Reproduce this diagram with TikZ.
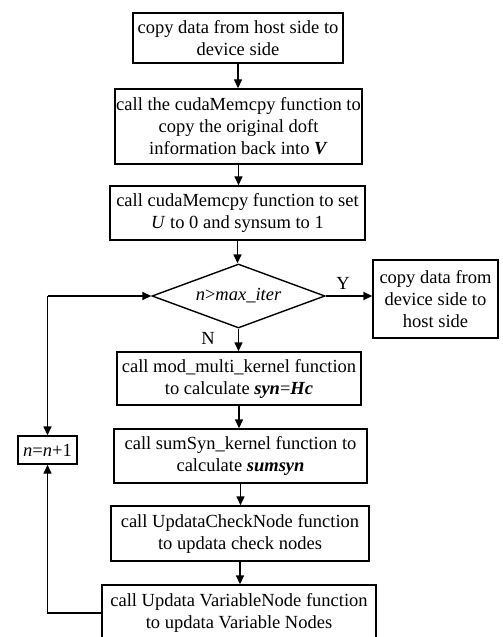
\documentclass[tikz,border=0pt]{standalone}
\usepackage{fontspec}
\setmainfont{Liberation Serif}
\usetikzlibrary{shapes.geometric,arrows.meta}
\begin{document}
\begin{tikzpicture}[x=1bp,y=-1bp,
  box/.style={draw,line width=1.4bp,inner sep=0pt,align=center,font=\fontsize{18.5bp}{22bp}\selectfont},
  arr/.style={line width=1.4bp,-{Triangle[length=9bp,width=8bp]}},
  lbl/.style={inner sep=0pt,font=\fontsize{18.5bp}{22bp}\selectfont}]
\useasboundingbox (0,0) rectangle (503,637);
\node[box,minimum width=210bp,minimum height=50bp] (b1) at (238,38) {copy data from host side to\\device side};
\node[box,minimum width=247bp,minimum height=75bp] (b2) at (238.5,126.5) {call the cudaMemcpy function to\\copy the original doft\\information back into \textbf{\textit{V}}};
\node[box,minimum width=255bp,minimum height=54bp] (b3) at (237.5,213) {call cudaMemcpy function to set\\\textit{U} to 0 and synsum to 1};
\node[box,shape=diamond,aspect=2.7,minimum width=173bp,minimum height=64bp] (dia) at (238.5,296) {\textit{n}>\textit{max\_iter}};
\node[box,minimum width=125bp,minimum height=78bp] (r) at (435.5,299) {copy data from\\device side to\\host side};
\node[box,minimum width=244bp,minimum height=53bp] (mod) at (239,378.5) {call mod\_multi\_kernel function\\to calculate \textbf{\textit{syn}}=\textbf{\textit{Hc}}};
\node[box,minimum width=253bp,minimum height=54bp] (sum) at (240.5,456) {call sumSyn\_kernel function to\\calculate \textbf{\textit{sumsyn}}};
\node[box,minimum width=258bp,minimum height=55bp] (chk) at (240,533.5) {call UpdataCheckNode function\\to updata check nodes};
\node[box,minimum width=274bp,minimum height=55bp] (var) at (239,612.5) {call Updata VariableNode function\\to updata Variable Nodes};
\node[box,minimum width=59bp,minimum height=28bp] (inc) at (47.5,450) {\textit{n}=\textit{n}+1};
\draw[arr] (b1.south) -- (b1.south |- b2.north);
\draw[arr] (b2.south) -- (b2.south |- b3.north);
\draw[arr] (b3.south) -- (b3.south |- dia.north);
\draw[arr] (dia.east) -- (dia.east -| r.west);
\draw[arr] (dia.south) -- (dia.south |- mod.north);
\draw[arr] (mod.south) -- (mod.south |- sum.north);
\draw[arr] (sum.south) -- (sum.south |- chk.north);
\draw[arr] (chk.south) -- (chk.south |- var.north);
\coordinate (vl) at ([yshift=-0.5bp]var.west);
\coordinate (corner) at (inc.north |- dia.west);
\draw[arr] (vl) -| (inc.south);
\draw[arr] (corner) -- (dia.west);
\draw[arr] (corner) -- (inc.north);
\node[lbl] (ylab) at (343,283) {Y};
\node[lbl] (nlab) at (208,338) {N};
\end{tikzpicture}
\end{document}
